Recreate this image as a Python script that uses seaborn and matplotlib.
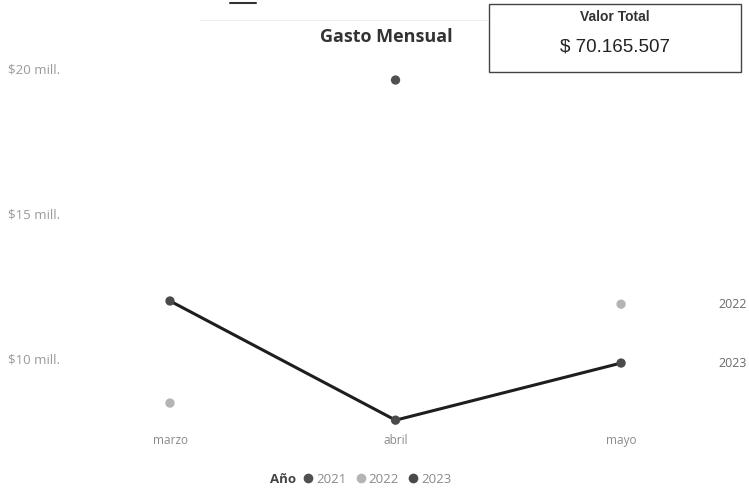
import numpy as np
import pandas as pd
import matplotlib
matplotlib.use("Agg")
import matplotlib.pyplot as plt
from matplotlib.lines import Line2D
from matplotlib.patches import Rectangle
import seaborn as sns

# valores en millones
meses = ["marzo", "abril", "mayo"]
gasto_2021 = [np.nan, 19.59, np.nan]
gasto_2022 = [8.45, np.nan, 11.86]
gasto_2023 = [11.97, 7.86, 9.83]
anios = ["2021", "2022", "2023"]
ticks_y = [10, 15, 20]
ticks_y_labels = ["$10 mill.", "$15 mill.", "$20 mill."]
valor_total = "$ 70.165.507"

colores = {"2021": "#505050", "2022": "#b4b4b4", "2023": "#4a4a4a"}

rows = []
for anio, serie in zip(anios, [gasto_2021, gasto_2022, gasto_2023]):
    for mes, v in zip(meses, serie):
        rows.append({"mes": mes, "Año": anio, "valor": v})
df = pd.DataFrame(rows)
df["x"] = df["mes"].map({m: i for i, m in enumerate(meses)})

sns.set_style("white")
plt.rcParams["font.family"] = ["Open Sans", "DejaVu Sans"]

fig = plt.figure(figsize=(7.49, 4.98), dpi=100)
# axes en pixeles: x 86..700, y 20..428
ax = fig.add_axes([86 / 749, (498 - 428) / 498, (700 - 86) / 749, (428 - 20) / 498])

linea = df[df["Año"] == "2023"]
sns.lineplot(data=linea, x="x", y="valor", color="#1e1e1e", linewidth=2.2,
             ax=ax, legend=False, zorder=2)
sns.scatterplot(data=df.dropna(), x="x", y="valor", hue="Año", palette=colores,
                hue_order=anios, s=45, edgecolor="none", ax=ax, zorder=3, legend=False)

ax.set_xlim(-0.3725, 2.35)
ax.set_ylim(7.59, 21.66)
ax.set_xticks(range(len(meses)))
ax.set_xticklabels(meses)
ax.set_yticks(ticks_y)
ax.set_yticklabels(ticks_y_labels)
for lab in ax.get_yticklabels():
    lab.set_horizontalalignment("left")
ax.tick_params(axis="y", length=0, pad=56, labelsize=9.5, labelcolor="#999999")
ax.tick_params(axis="x", length=0, pad=4, labelsize=8.5, labelcolor="#8a8a8a")
ax.set_xlabel("")
ax.set_ylabel("")
sns.despine(ax=ax, left=True, bottom=True)

# etiquetas de serie al final
for anio, serie in [("2022", gasto_2022), ("2023", gasto_2023)]:
    ax.annotate(anio, xy=(2, serie[-1]), xytext=(97, 0), textcoords="offset pixels",
                ha="left", va="center", fontsize=9, color="#6a6a6a",
                annotation_clip=False)

# titulo
fig.text(386 / 749, 1 - 37 / 498, "Gasto Mensual", ha="center", va="center",
         fontsize=13, fontweight="bold", color="#333333")

# tarjeta valor total
fig.patches.append(Rectangle((489 / 749, 1 - 72 / 498), (741 - 489) / 749, (72 - 4) / 498,
                             transform=fig.transFigure, facecolor="white",
                             edgecolor="#444444", linewidth=1.0))
fig.text(615 / 749, 1 - 17 / 498, "Valor Total", ha="center", va="center",
         fontsize=10, fontweight="bold", color="#333333",
         family=["Liberation Sans", "DejaVu Sans"])
fig.text(615 / 749, 1 - 47 / 498, valor_total, ha="center", va="center",
         fontsize=13.5, color="#222222", family=["Liberation Sans", "DejaVu Sans"])

# marcas sueltas de la captura
fig.add_artist(Line2D([230 / 749, 256 / 749], [1 - 3 / 498, 1 - 3 / 498],
                      transform=fig.transFigure, color="#333333", linewidth=1.5))
fig.add_artist(Line2D([200 / 749, 488 / 749], [1 - 20 / 498, 1 - 20 / 498],
                      transform=fig.transFigure, color="#eeeeee", linewidth=0.8))

# leyenda
fig.text(270 / 749, 1 - 479 / 498, "Año", ha="left", va="center",
         fontsize=9.5, fontweight="bold", color="#444444")
handles = [Line2D([], [], marker="o", linestyle="", markersize=7,
                  markerfacecolor=colores[a], markeredgecolor="none") for a in anios]
leg = fig.legend(handles, anios, loc="center left", bbox_to_anchor=(300 / 749, 1 - 479 / 498),
                 ncol=3, frameon=False, fontsize=9.5, handletextpad=0.0,
                 columnspacing=0.5, handlelength=1.2, borderaxespad=0, borderpad=0)
for t in leg.get_texts():
    t.set_color("#8a8a8a")

fig.savefig("out.png", dpi=100)
